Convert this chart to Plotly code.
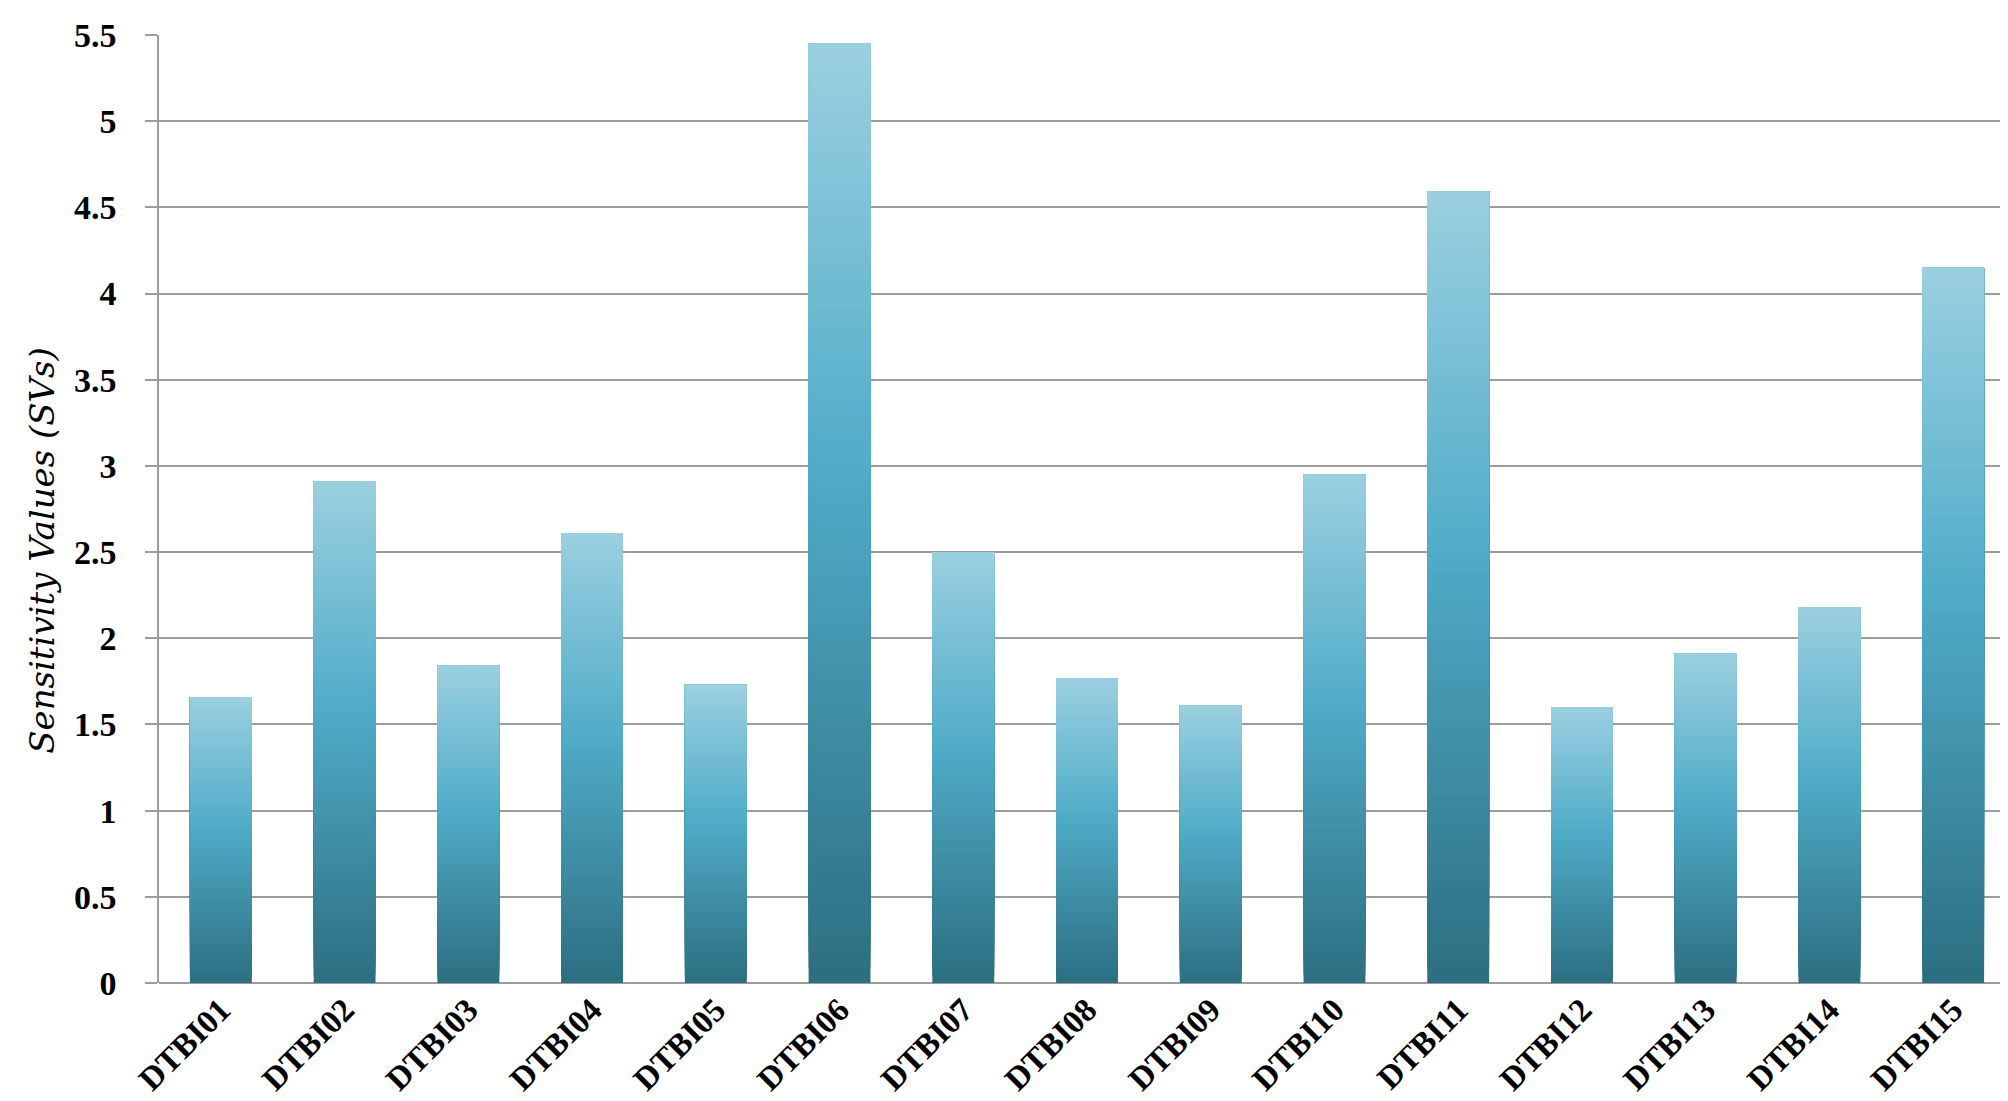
import numpy as np
import plotly.graph_objects as go

# ── data ───────────────────────────────────────────────────────────────────────

categories = ["DTBI01", "DTBI02", "DTBI03", "DTBI04", "DTBI05",
              "DTBI06", "DTBI07", "DTBI08", "DTBI09", "DTBI10",
              "DTBI11", "DTBI12", "DTBI13", "DTBI14", "DTBI15"]
sensitivity = [1.66, 2.91, 1.84, 2.61, 1.73,
               5.45, 2.50, 1.77, 1.61, 2.95,
               4.59, 1.60, 1.91, 2.18, 4.15]
y_ticks = [0, 0.5, 1, 1.5, 2, 2.5, 3, 3.5, 4, 4.5, 5, 5.5]
y_ticklabels = ["0", "0.5", "1", "1.5", "2", "2.5", "3", "3.5", "4", "4.5", "5", "5.5"]

# ── gradient helper (bottom dark -> mid accent -> top light) ───────────────────

STOPS = [(0.0, (45, 111, 130)), (0.55, (80, 172, 200)), (1.0, (154, 207, 224))]


def _grad(t: float) -> str:
    for (t0, c0), (t1, c1) in zip(STOPS[:-1], STOPS[1:]):
        if t <= t1:
            f = (t - t0) / (t1 - t0)
            r, g, b = (round(a + (bb - a) * f) for a, bb in zip(c0, c1))
            return f"rgb({r},{g},{b})"
    return "rgb(%d,%d,%d)" % STOPS[-1][1]


N_SLICES = 60
vals = np.array(sensitivity)

fig = go.Figure()
# each slice runs from its own base up to the bar top; later slices cover earlier
# ones, so there are no seams between the gradient steps
for k in range(N_SLICES):
    fig.add_trace(go.Bar(
        x=categories,
        y=vals * (1 - k / N_SLICES),
        base=vals * k / N_SLICES,
        width=0.5,
        marker=dict(color=_grad(k / (N_SLICES - 1)), line=dict(width=0)),
        showlegend=False,
        hoverinfo="skip",
    ))

fig.add_annotation(
    text="<i>Sensitivity Values (SVs)</i>",
    xref="paper", yref="paper",
    x=-0.063, y=0.456, textangle=-90,
    showarrow=False, xanchor="center", yanchor="middle",
    font=dict(family="DejaVu Serif", size=34, color="black"),
)

fig.update_layout(
    width=2008, height=1101,
    barmode="overlay",
    plot_bgcolor="white", paper_bgcolor="white",
    margin=dict(l=151, r=1, t=27, b=126, autoexpand=False),
    font=dict(family="Liberation Serif", color="black"),
)
fig.update_xaxes(
    tickangle=-45,
    tickfont=dict(family="Liberation Serif", size=33, color="black", weight="bold"),
    showgrid=False, showline=False, ticks="", automargin=False,
)
fig.update_yaxes(
    range=[0, 5.5],
    tickvals=y_ticks, ticktext=y_ticklabels,
    tickfont=dict(family="Liberation Serif", size=34, color="black", weight="bold"),
    showgrid=True, gridcolor="#9c9c9c", gridwidth=1.6,
    zeroline=True, zerolinecolor="#9c9c9c", zerolinewidth=1.6,
    showline=True, linecolor="#9c9c9c", linewidth=1.6,
    ticks="outside", ticklen=12, tickcolor="#9c9c9c", tickwidth=1.6,
    ticklabelstandoff=22, automargin=False,
)

fig.write_html("out.html")
